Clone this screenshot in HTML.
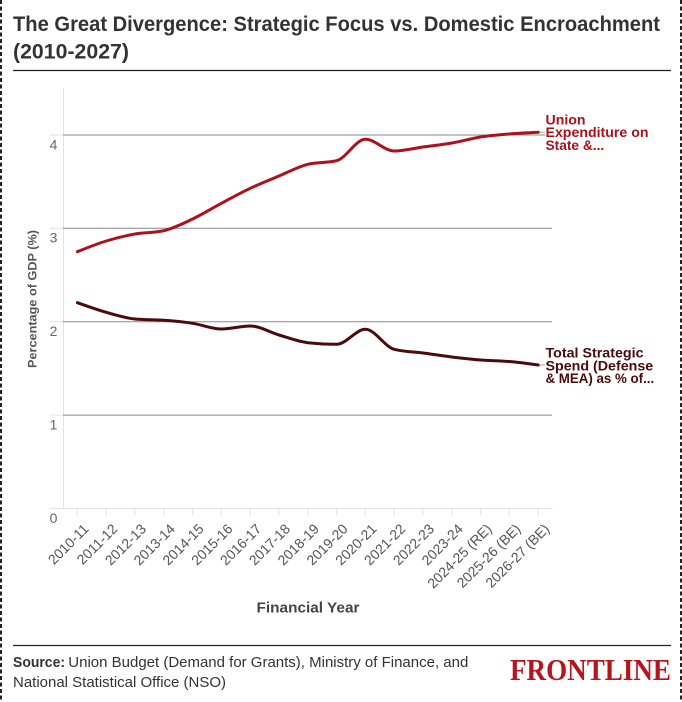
<!DOCTYPE html>
<html>
<head>
<meta charset="utf-8">
<style>
  html,body{margin:0;padding:0;background:#fff;}
  svg{display:block;}
  text{font-family:"Liberation Sans", sans-serif;}
</style>
</head>
<body>
<svg width="682" height="702" viewBox="0 0 682 702" xmlns="http://www.w3.org/2000/svg">
  <rect x="0" y="0" width="682" height="702" fill="#fff"/>
  <!-- dashed borders -->
  <line x1="1" y1="0" x2="1" y2="702" stroke="#222" stroke-width="2" stroke-dasharray="4,2.5"/>
  <line x1="681" y1="0" x2="681" y2="702" stroke="#222" stroke-width="2" stroke-dasharray="4,2.5"/>

  <!-- title -->
  <text x="13" y="31" font-size="21" font-weight="bold" fill="#333" textLength="647" lengthAdjust="spacingAndGlyphs">The Great Divergence: Strategic Focus vs. Domestic Encroachment</text>
  <text x="13" y="58.5" font-size="21" font-weight="bold" fill="#333" textLength="116" lengthAdjust="spacingAndGlyphs">(2010-2027)</text>
  <line x1="13" y1="70.5" x2="671" y2="70.5" stroke="#222" stroke-width="1.3"/>

  <!-- axes -->
  <line x1="63.5" y1="88" x2="63.5" y2="508.5" stroke="#e3e3e3" stroke-width="1"/>
  <line x1="50" y1="508.5" x2="552.5" y2="508.5" stroke="#e3e3e3" stroke-width="1"/>
  <g stroke="#e3e3e3" stroke-width="1">
    <line x1="50" y1="135" x2="63" y2="135"/>
    <line x1="50" y1="228.3" x2="63" y2="228.3"/>
    <line x1="50" y1="321.7" x2="63" y2="321.7"/>
    <line x1="50" y1="415.1" x2="63" y2="415.1"/>
  </g>
  <g stroke="#8a8a8a" stroke-width="1">
    <line x1="63" y1="135" x2="552" y2="135"/>
    <line x1="63" y1="228.3" x2="552" y2="228.3"/>
    <line x1="63" y1="321.7" x2="552" y2="321.7"/>
    <line x1="63" y1="415.1" x2="552" y2="415.1"/>
  </g>
  <!-- x ticks -->
  <g stroke="#e0e0e0" stroke-width="1">
    <line x1="77.4" y1="508.5" x2="77.4" y2="515"/>
    <line x1="106.2" y1="508.5" x2="106.2" y2="515"/>
    <line x1="135" y1="508.5" x2="135" y2="515"/>
    <line x1="163.8" y1="508.5" x2="163.8" y2="515"/>
    <line x1="192.6" y1="508.5" x2="192.6" y2="515"/>
    <line x1="221.4" y1="508.5" x2="221.4" y2="515"/>
    <line x1="250.2" y1="508.5" x2="250.2" y2="515"/>
    <line x1="279" y1="508.5" x2="279" y2="515"/>
    <line x1="307.8" y1="508.5" x2="307.8" y2="515"/>
    <line x1="336.6" y1="508.5" x2="336.6" y2="515"/>
    <line x1="365.4" y1="508.5" x2="365.4" y2="515"/>
    <line x1="394.2" y1="508.5" x2="394.2" y2="515"/>
    <line x1="423" y1="508.5" x2="423" y2="515"/>
    <line x1="451.8" y1="508.5" x2="451.8" y2="515"/>
    <line x1="480.6" y1="508.5" x2="480.6" y2="515"/>
    <line x1="509.4" y1="508.5" x2="509.4" y2="515"/>
    <line x1="538.2" y1="508.5" x2="538.2" y2="515"/>
  </g>

  <!-- y tick labels -->
  <g font-size="14" fill="#666" text-anchor="middle">
    <text x="53.5" y="149.3">4</text>
    <text x="53.5" y="242.6">3</text>
    <text x="53.5" y="336">2</text>
    <text x="53.5" y="429.4">1</text>
    <text x="53.5" y="523">0</text>
  </g>

  <!-- y axis title -->
  <text transform="translate(36.5,299) rotate(-90)" text-anchor="middle" font-size="12" font-weight="bold" fill="#555" textLength="138" lengthAdjust="spacingAndGlyphs">Percentage of GDP (%)</text>

  <!-- x tick labels -->
  <g font-size="14" fill="#555" text-anchor="end">
    <text transform="translate(82.4,522.7) rotate(-45)" y="10">2010-11</text>
    <text transform="translate(111.2,522.7) rotate(-45)" y="10">2011-12</text>
    <text transform="translate(140,522.7) rotate(-45)" y="10">2012-13</text>
    <text transform="translate(168.8,522.7) rotate(-45)" y="10">2013-14</text>
    <text transform="translate(197.6,522.7) rotate(-45)" y="10">2014-15</text>
    <text transform="translate(226.4,522.7) rotate(-45)" y="10">2015-16</text>
    <text transform="translate(255.2,522.7) rotate(-45)" y="10">2016-17</text>
    <text transform="translate(284,522.7) rotate(-45)" y="10">2017-18</text>
    <text transform="translate(312.8,522.7) rotate(-45)" y="10">2018-19</text>
    <text transform="translate(341.6,522.7) rotate(-45)" y="10">2019-20</text>
    <text transform="translate(370.4,522.7) rotate(-45)" y="10">2020-21</text>
    <text transform="translate(399.2,522.7) rotate(-45)" y="10">2021-22</text>
    <text transform="translate(428,522.7) rotate(-45)" y="10">2022-23</text>
    <text transform="translate(456.8,522.7) rotate(-45)" y="10">2023-24</text>
    <text transform="translate(485.6,522.7) rotate(-45)" y="10">2024-25 (RE)</text>
    <text transform="translate(514.4,522.7) rotate(-45)" y="10">2025-26 (BE)</text>
    <text transform="translate(543.2,522.7) rotate(-45)" y="10">2026-27 (BE)</text>
  </g>

  <!-- x axis title -->
  <text x="308" y="612.5" text-anchor="middle" font-size="15" font-weight="bold" fill="#444" textLength="103" lengthAdjust="spacingAndGlyphs">Financial Year</text>

  <!-- connectors -->
  <line x1="538.2" y1="132.3" x2="545" y2="132.3" stroke="#aaa" stroke-width="1"/>
  <line x1="538.2" y1="365" x2="545" y2="365" stroke="#aaa" stroke-width="1"/>

  <!-- red series -->
  <path fill="none" stroke="#ad111b" stroke-width="3" stroke-linecap="round" stroke-linejoin="round"
    d="M77.4,251.7 C87,247.825 96.6,243.95 106.2,241 C115.8,238.05 125.4,235.717 135,234 C144.6,232.283 154.2,232.9 163.8,230.7 C173.4,228.5 183,223.567 192.6,219 C202.2,214.433 211.8,208.417 221.4,203.3 C231,198.183 240.6,192.85 250.2,188.3 C259.8,183.75 269.4,180 279,176 C288.6,172 298.2,166.7 307.8,164.3 C317.4,161.9 327,163.1 336.6,160.7 C346.2,158.3 355.8,139.3 365.4,139.3 C375,139.3 384.6,151 394.2,151 C403.8,151 413.4,148.333 423,147 C432.6,145.667 442.2,144.667 451.8,143 C461.4,141.333 471,138.5 480.6,137 C490.2,135.5 499.8,134.783 509.4,134 C519,133.217 528.6,132.758 538.2,132.3"/>
  <!-- dark series -->
  <path fill="none" stroke="#4b0a0c" stroke-width="3" stroke-linecap="round" stroke-linejoin="round"
    d="M77.4,302.7 C87,306.142 96.6,309.583 106.2,312.3 C115.8,315.017 125.4,318.133 135,319 C144.6,319.867 154.2,319.583 163.8,320.3 C173.4,321.017 183,321.85 192.6,323.3 C202.2,324.75 211.8,329 221.4,329 C231,329 240.6,326 250.2,326 C259.8,326 269.4,332.217 279,335 C288.6,337.783 298.2,341.633 307.8,342.7 C317.4,343.767 327,344.3 336.6,344.3 C346.2,344.3 355.8,329.3 365.4,329.3 C375,329.3 384.6,346.833 394.2,349.3 C403.8,351.767 413.4,351.717 423,353 C432.6,354.283 442.2,355.833 451.8,357 C461.4,358.167 471,359.25 480.6,360 C490.2,360.75 499.8,360.667 509.4,361.5 C519,362.333 528.6,363.667 538.2,365"/>

  <!-- series labels -->
  <g font-size="14" font-weight="bold" fill="#a8121b" stroke="#fff" stroke-width="2" paint-order="stroke">
    <text x="545.5" y="124.3" textLength="40" lengthAdjust="spacingAndGlyphs">Union</text>
    <text x="545.5" y="137.2" textLength="103" lengthAdjust="spacingAndGlyphs">Expenditure on</text>
    <text x="545.5" y="150" textLength="58.7" lengthAdjust="spacingAndGlyphs">State &amp;...</text>
  </g>
  <g font-size="14" font-weight="bold" fill="#4b0a0c" stroke="#fff" stroke-width="2" paint-order="stroke">
    <text x="545.5" y="357.6" textLength="98" lengthAdjust="spacingAndGlyphs">Total Strategic</text>
    <text x="545.5" y="370.3" textLength="107.7" lengthAdjust="spacingAndGlyphs">Spend (Defense</text>
    <text x="545.5" y="383" textLength="108.7" lengthAdjust="spacingAndGlyphs">&amp; MEA) as % of...</text>
  </g>

  <!-- footer -->
  <line x1="13" y1="645.5" x2="671" y2="645.5" stroke="#222" stroke-width="1.3"/>
  <text x="13" y="667" font-size="15" font-weight="bold" fill="#333" textLength="52" lengthAdjust="spacingAndGlyphs">Source:</text>
  <text x="68.3" y="667" font-size="15" fill="#333" textLength="400" lengthAdjust="spacingAndGlyphs">Union Budget (Demand for Grants), Ministry of Finance, and</text>
  <text x="13" y="687" font-size="15" fill="#333" textLength="213" lengthAdjust="spacingAndGlyphs">National Statistical Office (NSO)</text>
  <text x="510" y="680" font-size="31" font-weight="bold" fill="#b8141d" textLength="161" lengthAdjust="spacingAndGlyphs" style="font-family:'Liberation Serif', serif">FRONTLINE</text>
</svg>
</body>
</html>
